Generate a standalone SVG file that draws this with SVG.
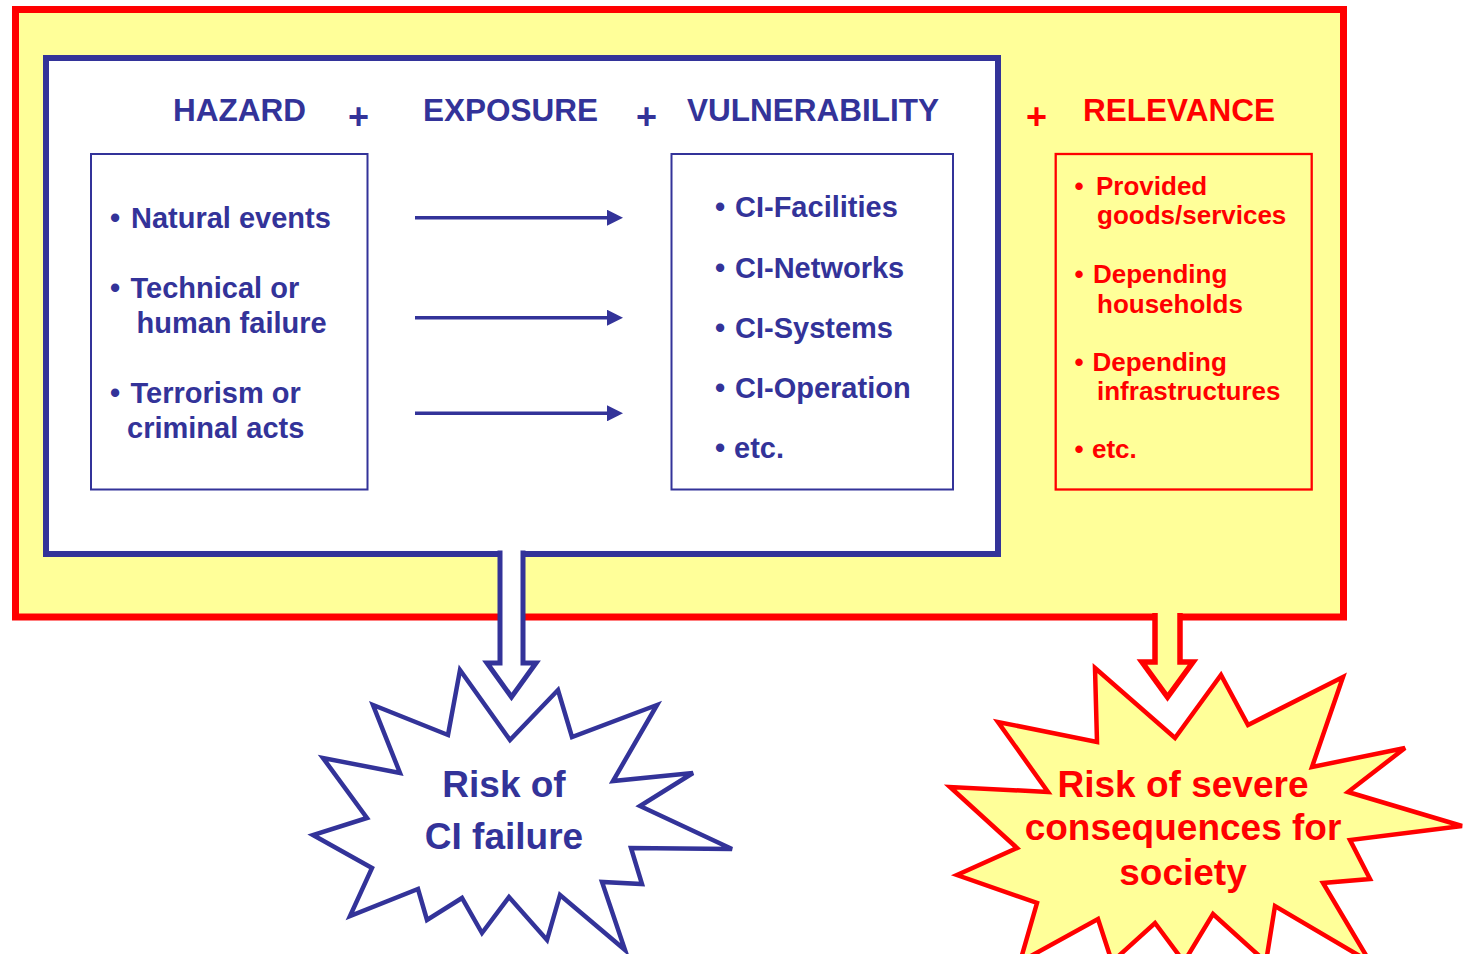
<svg xmlns="http://www.w3.org/2000/svg" width="1463" height="954" viewBox="0 0 1463 954">
<defs>
<style>
text{font-family:"Liberation Sans",Arial,Helvetica,sans-serif;font-weight:bold}
.b{fill:#333399}
.r{fill:#FF0000}
.hdr{font-size:31.5px}
.plus{font-size:36px}
.item{font-size:29px}
.ritem{font-size:26px}
.burst{font-size:37px;text-anchor:middle}
.box{fill:none;stroke:#333399;stroke-width:2}
.link{stroke:#333399;stroke-width:3.5;fill:none}
</style>
<marker id="ah" markerUnits="userSpaceOnUse" markerWidth="16" markerHeight="16" viewBox="0 0 16 16" refX="0" refY="8" orient="auto">
<path d="M0,0 L16,8 L0,16 z" fill="#333399"/>
</marker>
</defs>
<rect width="1463" height="954" fill="#FFFFFF"/>
<g id="outer-frame">
<rect x="15.5" y="9.5" width="1328" height="607.5" fill="#FFFF99" stroke="#FF0000" stroke-width="7"/>
</g>
<g id="inner-frame">
<rect x="46" y="58" width="952" height="496" fill="#FFFFFF" stroke="#333399" stroke-width="6"/>
</g>
<g id="headers">
<text class="b hdr" x="173" y="121">HAZARD</text>
<text class="b plus" x="348" y="129">+</text>
<text class="b hdr" x="423" y="121">EXPOSURE</text>
<text class="b plus" x="636" y="129">+</text>
<text class="b hdr" x="687" y="121">VULNERABILITY</text>
<text class="r plus" x="1026" y="129">+</text>
<text class="r hdr" x="1083" y="121">RELEVANCE</text>
</g>
<g id="hazard">
<rect class="box" x="91" y="154" width="276.5" height="335.5"/>
<text class="b item" x="110" y="228">•</text>
<text class="b item" x="131" y="228">Natural events</text>
<text class="b item" x="110" y="298">•</text>
<text class="b item" x="130.5" y="298">Technical or</text>
<text class="b item" x="136.5" y="333">human failure</text>
<text class="b item" x="110" y="403">•</text>
<text class="b item" x="130.5" y="403">Terrorism or</text>
<text class="b item" x="127" y="438">criminal acts</text>
</g>
<g id="vulnerability">
<rect class="box" x="671.5" y="154" width="281.5" height="335.5"/>
<text class="b item" x="715" y="217">•</text>
<text class="b item" x="735" y="217">CI-Facilities</text>
<text class="b item" x="715" y="278">•</text>
<text class="b item" x="735" y="278">CI-Networks</text>
<text class="b item" x="715" y="338">•</text>
<text class="b item" x="735" y="338">CI-Systems</text>
<text class="b item" x="715" y="398">•</text>
<text class="b item" x="735" y="398">CI-Operation</text>
<text class="b item" x="715" y="458">•</text>
<text class="b item" x="734" y="458">etc.</text>
</g>
<g id="relevance">
<rect x="1055.7" y="154" width="256" height="335.5" fill="none" stroke="#FF0000" stroke-width="2.3"/>
<text class="r ritem" x="1074.5" y="195">•</text>
<text class="r ritem" x="1096" y="195">Provided</text>
<text class="r ritem" x="1097" y="224">goods/services</text>
<text class="r ritem" x="1074.5" y="283">•</text>
<text class="r ritem" x="1093" y="283">Depending</text>
<text class="r ritem" x="1097" y="313">households</text>
<text class="r ritem" x="1074.5" y="371">•</text>
<text class="r ritem" x="1092.5" y="371">Depending</text>
<text class="r ritem" x="1097" y="400">infrastructures</text>
<text class="r ritem" x="1074.5" y="458">•</text>
<text class="r ritem" x="1092" y="458">etc.</text>
</g>
<g id="connectors">
<line class="link" x1="415" y1="217.7" x2="607" y2="217.7" marker-end="url(#ah)"/>
<line class="link" x1="415" y1="317.7" x2="607" y2="317.7" marker-end="url(#ah)"/>
<line class="link" x1="415" y1="413.3" x2="607" y2="413.3" marker-end="url(#ah)"/>
<path d="M500,550.5 L500,663 L487,663 L511.5,697 L536,663 L523,663 L523,550.5" fill="#FFFFFF" stroke="#333399" stroke-width="5" stroke-miterlimit="10"/>
<path d="M1155,613 L1155,662 L1142,662 L1167.5,697 L1193,662 L1180,662 L1180,613" fill="#FFFF99" stroke="#FF0000" stroke-width="5.5" stroke-miterlimit="10"/>
</g>
<g id="burst-ci">
<polygon points="460,670 510,740 558,690 572,737 657,705 613,781 693,773 640,806 732,849 631,848 642,884 602,882 625,950 560,895 547,940 509,897 482,933 462,898 427,920 418,889 350,916 372,868 313,835 367,818 323,758 400,773 373,705 448,735" fill="#FFFFFF" stroke="#333399" stroke-width="4.5"/>
<text class="b burst" x="504" y="797">Risk of</text>
<text class="b burst" x="504" y="849">CI failure</text>
</g>
<g id="burst-society">
<polygon points="1095,668 1175,738 1221,675 1248,725 1343,677 1312,767 1405,748 1348,792 1462,826 1350,840 1370,879 1323,883 1370,962 1275,906 1266,962 1213,914 1184,962 1155,923 1112,962 1098,919 1020,962 1037,903 957,875 1017,848 950,787 1048,792 998,722 1097,742" fill="#FFFF99" stroke="#FF0000" stroke-width="4.5"/>
<text class="r burst" x="1183" y="797">Risk of severe</text>
<text class="r burst" x="1183" y="840">consequences for</text>
<text class="r burst" x="1183" y="885">society</text>
</g>
</svg>
